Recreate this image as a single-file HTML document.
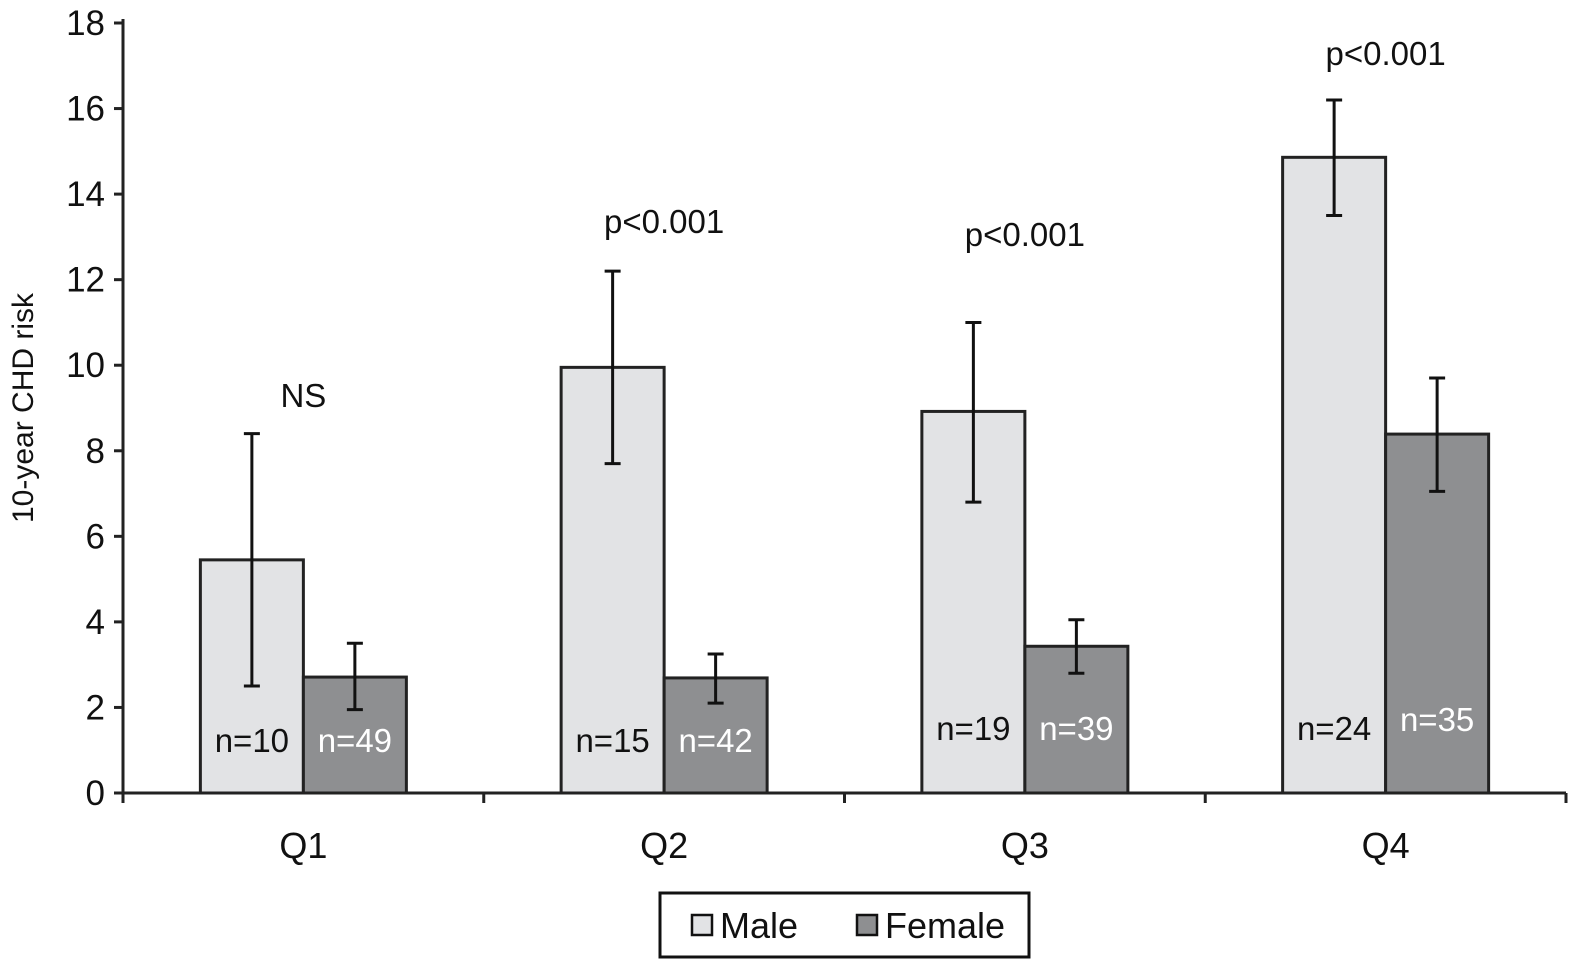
<!DOCTYPE html>
<html><head><meta charset="utf-8"><style>
body{margin:0;background:#fff;}
svg text{font-family:"Liberation Sans",Arial,sans-serif;}
</style></head><body>
<svg id="chart" width="1584" height="969" xmlns="http://www.w3.org/2000/svg">
<g id="g"></g>
</svg>
<script>
const categories=["Q1","Q2","Q3","Q4"];
const maleVals=[5.45,9.95,8.92,14.86];
const femaleVals=[2.71,2.69,3.43,8.39];
const maleLo=[2.5,7.7,6.8,13.5];
const maleHi=[8.4,12.2,11.0,16.2];
const femaleLo=[1.95,2.1,2.8,7.05];
const femaleHi=[3.5,3.25,4.05,9.7];
const maleN=["n=10","n=15","n=19","n=24"];
const femaleN=["n=49","n=42","n=39","n=35"];
const sigLabels=["NS","p<0.001","p<0.001","p<0.001"];
const sigY=[407,233,246,65];
const yTicks=[0,2,4,6,8,10,12,14,16,18];

const NS="http://www.w3.org/2000/svg";
const g=document.getElementById('g');
const x0=123,x1=1566,y0=793,yTop=23,yMax=18;
const y=v=>y0-(v/yMax)*(y0-yTop);
const bw=(x1-x0)/categories.length;
const cx=i=>x0+bw*(i+0.5);
const barW=103;
function el(t,a,txt){const e=document.createElementNS(NS,t);for(const k in a)e.setAttribute(k,a[k]);if(txt!==undefined)e.textContent=txt;g.appendChild(e);return e;}

let e=el('line',{x1:x0,y1:yTop-4,x2:x0,y2:y0,stroke:'#222','stroke-width':3});


e=el('line',{x1:x0,y1:y0,x2:x1,y2:y0,stroke:'#222','stroke-width':3});


yTicks.forEach(v=>{
  el('line',{x1:x0-9,y1:y(v),x2:x0,y2:y(v),stroke:'#222','stroke-width':3});
  e=el('text',{x:x0-18,y:y(v)+12,'text-anchor':'end','font-size':35,fill:'#111'},v);
  
  
});
for(let i=0;i<=categories.length;i++){
  el('line',{x1:x0+bw*i,y1:y0,x2:x0+bw*i,y2:y0+10,stroke:'#222','stroke-width':3});
}
e=el('text',{x:0,y:0,'text-anchor':'middle','font-size':30,fill:'#111',transform:`translate(33,${(y0+yTop)/2}) rotate(-90)`},'10-year CHD risk');



categories.forEach((c,i)=>{
  const c0=cx(i);
  e=el('rect',{x:c0-barW,y:y(maleVals[i]),width:barW,height:y0-y(maleVals[i]),fill:'#e2e3e5',stroke:'#222','stroke-width':3});
  
  
  e=el('rect',{x:c0,y:y(femaleVals[i]),width:barW,height:y0-y(femaleVals[i]),fill:'#8e8f91',stroke:'#222','stroke-width':3});
  
  
  [[c0-barW/2,maleLo[i],maleHi[i]],[c0+barW/2,femaleLo[i],femaleHi[i]]].forEach(([xx,lo,hi])=>{
    e=el('line',{x1:xx,y1:y(lo),x2:xx,y2:y(hi),stroke:'#111','stroke-width':3});
    
    
    el('line',{x1:xx-8,y1:y(lo),x2:xx+8,y2:y(lo),stroke:'#111','stroke-width':3});
    el('line',{x1:xx-8,y1:y(hi),x2:xx+8,y2:y(hi),stroke:'#111','stroke-width':3});
  });
  const ny=i<2?752:740;
  e=el('text',{x:c0-barW/2,y:ny,'text-anchor':'middle','font-size':33,fill:'#111'},maleN[i]);
  
  
  e=el('text',{x:c0+barW/2,y:i==3?731:ny,'text-anchor':'middle','font-size':33,fill:'#fff'},femaleN[i]);
  
  
  e=el('text',{x:c0,y:sigY[i],'text-anchor':'middle','font-size':33,fill:'#111'},sigLabels[i]);
  
  
  e=el('text',{x:c0,y:858,'text-anchor':'middle','font-size':36,fill:'#111'},c);
  
  
});

e=el('rect',{x:660,y:893,width:369,height:64,fill:'#fff',stroke:'#111','stroke-width':3});


e=el('rect',{x:692,y:915,width:20,height:20,fill:'#e2e3e5',stroke:'#111','stroke-width':2.5});


e=el('text',{x:720,y:938,'font-size':36,fill:'#111'},'Male');


e=el('rect',{x:857,y:915,width:20,height:20,fill:'#8e8f91',stroke:'#111','stroke-width':2.5});


e=el('text',{x:885,y:938,'font-size':36,fill:'#111'},'Female');


</script>
</body></html>
